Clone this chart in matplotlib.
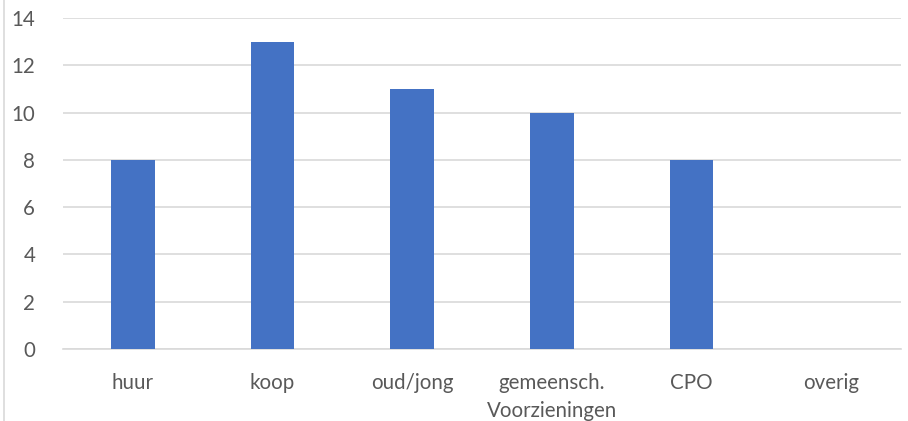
import matplotlib.pyplot as plt
from matplotlib.lines import Line2D

# data
categories = ['huur', 'koop', 'oud/jong', 'gemeensch.\nVoorzieningen', 'CPO', 'overig']
values = [8, 13, 11, 10, 8, 0]
y_ticks = [0, 2, 4, 6, 8, 10, 12, 14]

plt.rcParams['font.family'] = ['Lato', 'DejaVu Sans']

fig = plt.figure(figsize=(9.08, 4.21), dpi=100)
ax = fig.add_axes([63 / 908, 72 / 421, 838 / 908, 331 / 421])

x = range(len(categories))
ax.bar(x, values, width=0.315, color='#4472C4', zorder=3)

ax.set_xlim(-0.5, len(categories) - 0.5)
ax.set_ylim(0, 14)
ax.set_yticks(y_ticks)
ax.set_xticks(list(x))
ax.set_xticklabels(categories, linespacing=1.5)

ax.grid(axis='y', color='#d9d9d9', linewidth=1.2, zorder=0)
for s in ['top', 'right', 'left']:
    ax.spines[s].set_visible(False)
ax.spines['bottom'].set_color('#d9d9d9')
ax.spines['bottom'].set_linewidth(1.2)
ax.tick_params(axis='both', length=0, labelsize=14.8, colors='#595959')
ax.tick_params(axis='x', pad=17)
ax.tick_params(axis='y', pad=20)

# thin chart border at the left edge
fig.add_artist(Line2D([3.5 / 908, 3.5 / 908], [0, 1], color='#d9d9d9', linewidth=1.2))

fig.savefig('out.png', dpi=100)
